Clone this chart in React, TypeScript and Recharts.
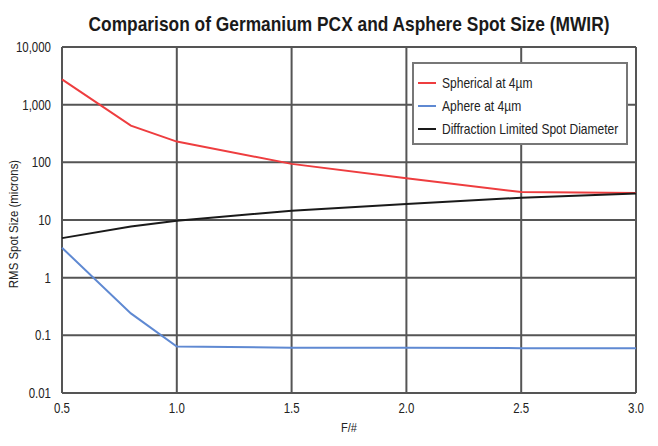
import React from "react";
import { LineChart, Line, XAxis, YAxis, CartesianGrid, Legend, Customized } from "recharts";

const fNumbers = [0.5, 0.8, 1.0, 1.5, 2.0, 2.5, 3.0];
const spherical = [2750, 433, 229, 94, 53, 30.5, 29.5];
const asphere = [3.3, 0.24, 0.064, 0.061, 0.061, 0.06, 0.06];
const diffraction = [4.85, 7.7, 9.7, 14.5, 19, 24.3, 28.8];

const xTicks = [0.5, 1.0, 1.5, 2.0, 2.5, 3.0];
const yTicks = [0.01, 0.1, 1, 10, 100, 1000, 10000];

const titleText = "Comparison of Germanium PCX and Asphere Spot Size (MWIR)";
const seriesNames = ["Spherical at 4µm", "Aphere at 4µm", "Diffraction Limited Spot Diameter"];
const seriesColors = ["#ee3d3f", "#5f89d2", "#1a1a1a"];

const data = fNumbers.map((f, i) => ({
  f,
  spherical: spherical[i],
  asphere: asphere[i],
  diffraction: diffraction[i],
}));

const FONT = "'Liberation Sans', Arial, sans-serif";
const SQUEEZE = 0.82;

const fmtY = (v: number) => {
  if (v >= 1) return Math.round(v).toLocaleString("en-US");
  return String(v);
};

const YTick = (props: any) => {
  const { x, y, payload } = props;
  return (
    <g transform={`translate(${x},${y}) scale(${SQUEEZE},1)`}>
      <text x={0} y={0} textAnchor="end" dominantBaseline="central" fontFamily={FONT} fontSize={14} fill="#222">
        {fmtY(payload.value)}
      </text>
    </g>
  );
};

const XTick = (props: any) => {
  const { x, y, payload } = props;
  return (
    <g transform={`translate(${x},${y}) scale(${SQUEEZE},1)`}>
      <text x={0} y={0} dy="0.71em" textAnchor="middle" fontFamily={FONT} fontSize={14} fill="#222">
        {Number(payload.value).toFixed(1)}
      </text>
    </g>
  );
};

const LegendBox = () => (
  <div
    style={{
      width: 216,
      height: 83,
      border: "2px solid #777",
      background: "#fff",
      boxSizing: "border-box",
    }}
  >
    <svg width={212} height={79} style={{ display: "block" }}>
      {seriesNames.map((n, i) => (
        <g key={n} transform={`translate(0, ${19 + i * 23})`}>
          <line x1={4} x2={22} y1={0} y2={0} stroke={seriesColors[i]} strokeWidth={2} />
          <g transform={`translate(28,0) scale(0.86,1)`}>
            <text x={0} y={0} dominantBaseline="central" fontFamily={FONT} fontSize={14} fill="#222">
              {n}
            </text>
          </g>
        </g>
      ))}
    </svg>
  </div>
);

const YLabel = (props: any) => {
  const vb = props.viewBox || { y: 47, height: 346 };
  const cy = vb.y + vb.height / 2 + 4;
  return (
    <g transform={`translate(14, ${cy}) rotate(-90) scale(0.88,1)`}>
      <text x={0} y={0} textAnchor="middle" dominantBaseline="central" fontFamily={FONT} fontSize={13} fill="#222">
        RMS Spot Size (microns)
      </text>
    </g>
  );
};

const XLabel = (props: any) => {
  const vb = props.viewBox || { x: 62, width: 574, y: 393 };
  const cx = vb.x + vb.width / 2;
  return (
    <g transform={`translate(${cx}, 428) scale(0.85,1)`}>
      <text x={0} y={0} textAnchor="middle" dominantBaseline="central" fontFamily={FONT} fontSize={13} fill="#222">
        F/#
      </text>
    </g>
  );
};

const Title = () => (
  <g transform="translate(349, 31) scale(0.868,1)">
    <text x={0} y={0} textAnchor="middle" fontFamily={FONT} fontWeight="bold" fontSize={20} fill="#1a1a1a">
      {titleText}
    </text>
  </g>
);

export default function App() {
  return (
    <div style={{ position: "absolute", left: 0, top: 0, width: 658, height: 446, background: "#fff" }}>
      <LineChart width={658} height={446} data={data} margin={{ top: 47, right: 22, bottom: 28, left: 0 }}>
        <CartesianGrid stroke="#555" strokeWidth={2} horizontalValues={yTicks} verticalValues={xTicks} />
        <XAxis
          dataKey="f"
          type="number"
          domain={[0.5, 3]}
          ticks={xTicks}
          axisLine={false}
          tickLine={false}
          height={25}
          tickMargin={4}
          tick={<XTick />}
          label={<XLabel />}
        />
        <YAxis
          scale="log"
          domain={[0.01, 10000]}
          ticks={yTicks}
          allowDataOverflow
          axisLine={false}
          tickLine={false}
          width={62}
          tickMargin={5}
          tick={<YTick />}
          label={<YLabel />}
        />
        <Legend
          content={<LegendBox />}
          wrapperStyle={{ position: "absolute", left: 412, top: 62, width: 216, height: 0, overflow: "visible" }}
        />
        <Line dataKey="spherical" name={seriesNames[0]} stroke={seriesColors[0]} strokeWidth={2} dot={false} isAnimationActive={false} />
        <Line dataKey="asphere" name={seriesNames[1]} stroke={seriesColors[1]} strokeWidth={2} dot={false} isAnimationActive={false} />
        <Line dataKey="diffraction" name={seriesNames[2]} stroke={seriesColors[2]} strokeWidth={2} dot={false} isAnimationActive={false} />
        <Customized component={Title} />
      </LineChart>
    </div>
  );
}
